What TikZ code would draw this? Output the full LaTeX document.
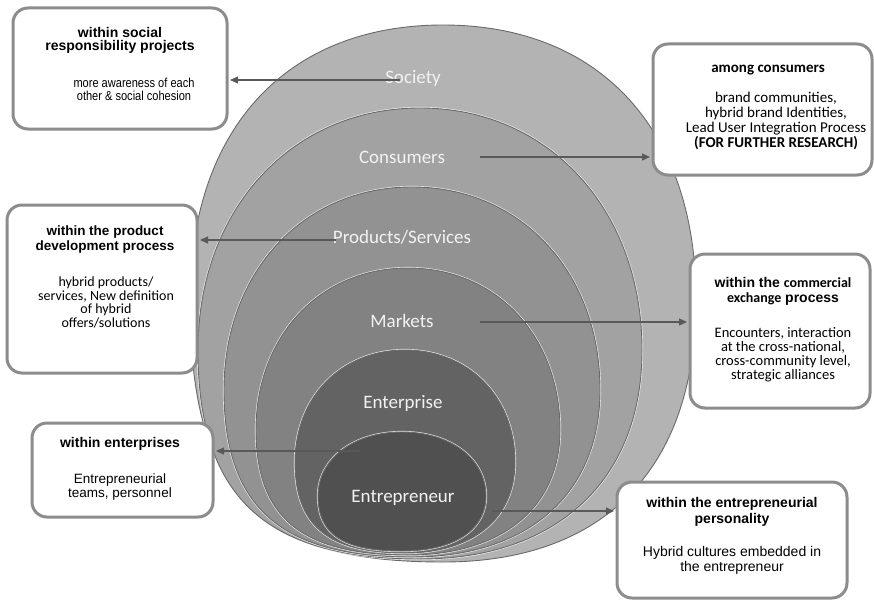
\documentclass[tikz,border=0pt]{standalone}
\usepackage{fontspec}
\setmainfont{Liberation Sans}
\newfontfamily\calib{Carlito}
\newfontfamily\narrowsans[FakeStretch=0.85]{Liberation Sans}
\usetikzlibrary{arrows.meta}

\definecolor{ringA}{HTML}{B3B3B3}
\definecolor{ringAlight}{HTML}{CBCBCB}
\definecolor{ringB}{HTML}{A2A2A2}
\definecolor{ringC}{HTML}{929292}
\definecolor{ringD}{HTML}{828282}
\definecolor{ringE}{HTML}{636363}
\definecolor{ringF}{HTML}{505050}
\definecolor{ringedge}{HTML}{6A6A6A}
\definecolor{ringtext}{HTML}{F2F2F2}
\definecolor{boxgray}{HTML}{8C8C8C}
\definecolor{arrgray}{HTML}{595959}

% outer disc gets a lighter rim
\pgfdeclareradialshading{rimshade}{\pgfpoint{0bp}{0bp}}{%
  color(0bp)=(ringA); color(38bp)=(ringA); color(50bp)=(ringAlight)}

% fullness of the four quarters of a disc outline
\def\kT{0.58}\def\kBR{0.62}\def\kBL{0.7}

\tikzset{
  % nested disc: centre x, top y, bottom y, y of widest point, half width
  ring/.style n args={5}{insert path={
    (#1,#2) .. controls ({#1+\kT*#5},#2) and ({#1+#5},{#4-\kT*(#4-#2)}) .. ({#1+#5},#4)
    .. controls ({#1+#5},{#4+\kBR*(#3-#4)}) and ({#1+\kBR*#5},#3) .. (#1,#3)
    .. controls ({#1-\kBL*#5},#3) and ({#1-#5},{#4+\kBL*(#3-#4)}) .. ({#1-#5},#4)
    .. controls ({#1-#5},{#4-\kT*(#4-#2)}) and ({#1-\kT*#5},#2) .. cycle}},
  halo/.style={draw=white, line width=2.2pt, draw opacity=0.8},
  disc/.style={fill=#1, draw=ringedge, line width=0.9pt},
  ringlabel/.style={text=ringtext, anchor=base, inner sep=0pt,
    font=\calib\fontsize{19}{22}\selectfont},
  box/.style={draw=boxgray, line width=3pt, fill=white, rounded corners=15pt,
    inner sep=0pt},
  % anchored at the baseline of the last line
  btext/.style={align=center, anchor=base, inner sep=0pt, text=black},
  arr/.style={draw=arrgray, line width=1.1pt, shorten >=1.5pt,
    -{Triangle[length=8pt,width=7pt]}},
}

\begin{document}
\begin{tikzpicture}[x=1pt,y=-1pt]
\useasboundingbox (0,0) rectangle (874,602);

% nested discs, outermost first
\begingroup
\def\kT{0.62}\def\kBR{0.64}\def\kBL{0.74}
\path[shading=rimshade, draw=ringedge, line width=0.9pt, ring={443}{25}{562}{300}{253}];
\endgroup
\path[halo, ring={420}{108}{559}{350}{222}];
\path[disc=ringB, ring={420}{108}{559}{350}{222}];
\path[halo, ring={412}{187}{557}{390}{188}];
\path[disc=ringC, ring={412}{187}{557}{390}{188}];
\path[halo, ring={408}{268}{555}{430}{152}];
\path[disc=ringD, ring={408}{268}{555}{430}{152}];
\path[halo, ring={405}{350}{553}{462}{110}];
\path[disc=ringE, ring={405}{350}{553}{462}{110}];
\path[halo, ring={402}{432}{551}{496}{84}];
\path[disc=ringF, ring={402}{432}{551}{496}{84}];

% disc labels
\node[ringlabel] (lsoc) at (413,83) {Society};
\node[ringlabel] (lcon) at (402,163) {Consumers};
\node[ringlabel] (lpro) at (402,243) {Products/Services};
\node[ringlabel] (lmar) at (402,327) {Markets};
\node[ringlabel] (lent) at (403,408) {Enterprise};
\node[ringlabel] (lepr) at (403,502) {Entrepreneur};

% callout boxes
\node[box, minimum width=214pt, minimum height=121pt] (b1) at (120,68.5) {};
\node[box, minimum width=219pt, minimum height=131pt] (b2) at (762.5,109.5) {};
\node[box, minimum width=190pt, minimum height=168pt] (b3) at (102,289) {};
\node[box, minimum width=180pt, minimum height=154pt] (b4) at (780,331) {};
\node[box, minimum width=181pt, minimum height=94pt] (b5) at (122.5,470) {};
\node[box, minimum width=230pt, minimum height=116pt] (b6) at (732,540) {};

% box texts
\node[btext, font=\bfseries\fontsize{14}{13}\selectfont] (b1h) at (120,50)
  {within social\\responsibility projects};
\node[btext, font=\narrowsans\fontsize{13}{13}\selectfont] (b1t) at (134,100)
  {more awareness of each\\other \& social cohesion};

\node[btext, font=\calib\bfseries\fontsize{15}{15}\selectfont] (b2h) at (768,72)
  {among consumers};
\node[btext, font=\calib\fontsize{15}{14.7}\selectfont] (b2t) at (776,147)
  {brand communities,\\hybrid brand Identities,\\Lead User Integration Process\\\textbf{(FOR FURTHER RESEARCH)}};

\node[btext, font=\bfseries\fontsize{13.5}{15}\selectfont] (b3h) at (105,250)
  {within the product\\development process};
\node[btext, font=\calib\fontsize{14}{13.4}\selectfont] (b3t) at (106,327)
  {hybrid products/\\services, New definition\\of hybrid\\offers/solutions};

\node[btext, font=\bfseries\fontsize{14}{15}\selectfont] (b4h) at (783,302)
  {within the {\calib commercial}\\{\calib exchange} process};
\node[btext, font=\calib\fontsize{14.5}{14}\selectfont] (b4t) at (783,379)
  {Encounters, interaction\\at the cross-national,\\cross-community level,\\strategic alliances};

\node[btext, font=\bfseries\fontsize{14}{15}\selectfont] (b5h) at (120,447)
  {within enterprises};
\node[btext, font=\fontsize{13.5}{14}\selectfont] (b5t) at (120,497)
  {Entrepreneurial\\teams, personnel};

\node[btext, font=\bfseries\fontsize{14}{16}\selectfont] (b6h) at (732,523)
  {within the entrepreneurial\\personality};
\node[btext, font=\fontsize{14}{15}\selectfont] (b6t) at (732,571)
  {Hybrid cultures embedded in\\the entrepreneur};

% connectors from each disc to its box
\coordinate (s1) at (400,80);
\coordinate (s2) at (480,157);
\coordinate (s3) at (336,240);
\coordinate (s4) at (480,322);
\coordinate (s5) at (360,451);
\coordinate (s6) at (492,511);
\draw[arr] (s1) -- (s1 -| b1.east);
\draw[arr] (s2) -- (s2 -| b2.west);
\draw[arr] (s3) -- (s3 -| b3.east);
\draw[arr] (s4) -- (s4 -| b4.west);
\draw[arr] (s5) -- (s5 -| b5.east);
\draw[arr] (s6) -- (s6 -| b6.west);
\end{tikzpicture}
\end{document}
